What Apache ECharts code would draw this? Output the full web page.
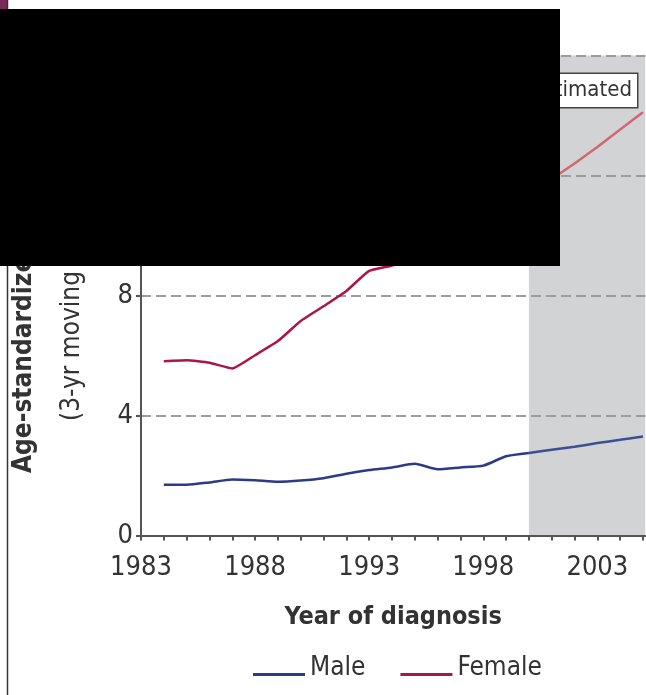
<!DOCTYPE html>
<html><head><meta charset="utf-8">
<script src="https://cdn.jsdelivr.net/npm/echarts@6/dist/echarts.min.js"></script>
<style>html,body{margin:0;padding:0;background:#fff}#c{width:646px;height:695px}</style>
</head><body><div id="c"></div>
<script>
// ---- data ----
const years  = [1984,1985,1986,1987,1988,1989,1990,1991,1992,1993,1994,1995,1996,1997,1998,1999,2000,2001,2002,2003,2004,2005];
const male   = [1.69,1.69,1.77,1.87,1.84,1.79,1.83,1.91,2.06,2.18,2.27,2.39,2.21,2.27,2.33,2.64,2.75,2.86,2.96,3.08,3.19,3.30];
const female = [5.81,5.84,5.76,5.57,6.01,6.48,7.15,7.64,8.15,8.82,9.00,9.30,9.70,10.10,10.50,10.90,11.35,11.88,12.40,12.95,13.53,14.11];
const estimatedFrom = 2000;
const xLabelYears = [1983,1988,1993,1998,2003];
const yTickValues = [0,4,8,12,16];
const seriesNames = ['Male','Female'];

const FONT = "'DejaVu Sans Condensed','Liberation Sans Narrow',sans-serif";
const TXT = '#333';

function part(vals, est){
  return years.map((y,i)=>[y,vals[i]]).filter(p => est ? p[0] >= estimatedFrom : p[0] <= estimatedFrom);
}

const chart = echarts.init(document.getElementById('c'), null, {renderer:'canvas'});
const legendIcon = 'path://M0,0 M0,17 L52,17 L52,20 L0,20 Z M0,24';

chart.setOption({
  animation:false,
  backgroundColor:'#fff',
  grid:{left:141, right:0, top:55.5, bottom:159.5, containLabel:false},
  xAxis:{
    type:'value', min:1983, max:2005.1, interval:1, z:2,
    axisLine:{lineStyle:{color:'#555', width:2}},
    axisTick:{show:true, length:5, lineStyle:{color:'#555', width:2}},
    axisLabel:{
      fontFamily:FONT, fontSize:27, color:TXT, margin:19, showMaxLabel:false,
      formatter:v => xLabelYears.indexOf(v) >= 0 ? String(v) : ''
    },
    splitLine:{show:false},
    name:'Year of diagnosis', nameLocation:'middle', nameGap:69,
    nameTextStyle:{fontFamily:FONT, fontSize:25, fontWeight:'bold', color:TXT}
  },
  yAxis:{
    type:'value', min:0, max:16, interval:4, z:2,
    axisLine:{show:true, lineStyle:{color:'#555', width:2}},
    axisTick:{show:true, length:5, lineStyle:{color:'#555', width:2}},
    axisLabel:{fontFamily:FONT, fontSize:27, color:TXT, margin:8,
      formatter:v => yTickValues.indexOf(v) >= 0 ? String(v) : ''},
    splitLine:{show:true, lineStyle:{color:'#9d9d9d', width:2, type:[10,5]}}
  },
  legend:{
    left:253, top:655, padding:0, itemGap:35, itemWidth:52, itemHeight:24,
    data:seriesNames.map(n=>({name:n, icon:legendIcon})),
    textStyle:{fontFamily:FONT, fontSize:26, color:TXT}
  },
  series:[
    {name:'Male', type:'line', z:3, data:part(male,false), smooth:0.2, showSymbol:false,
      lineStyle:{color:'#2c3a88', width:2.5}, itemStyle:{color:'#2c3a88'},
      markArea:{silent:true, z:1, itemStyle:{color:'#d2d3d5'},
        data:[[{xAxis:estimatedFrom, yAxis:0},{xAxis:2005.1, yAxis:16}]]}},
    {name:'Male est', type:'line', z:3, data:part(male,true), smooth:0.2, showSymbol:false,
      lineStyle:{color:'#3f4c96', width:2.5}},
    {name:'Female', type:'line', z:3, data:part(female,false), smooth:0.15, showSymbol:false,
      lineStyle:{color:'#ad1449', width:2.5}, itemStyle:{color:'#ad1449'}},
    {name:'Female est', type:'line', z:3, data:part(female,true), smooth:0.15, showSymbol:false,
      lineStyle:{color:'#d4666f', width:2.5}}
  ],
  graphic:[
    {type:'rect', z:50, shape:{x:0, y:0, width:7, height:9}, style:{fill:'#7a2a58'}},
    {type:'line', z:50, shape:{x1:7.5, y1:0, x2:7.5, y2:695}, style:{stroke:'#333', lineWidth:1.5}},
    {type:'text', z:50, x:24, y:473, rotation:Math.PI/2,
      style:{text:'Age-standardized rate', font:'bold 26px '+FONT, fill:TXT, textAlign:'left', textVerticalAlign:'middle'}},
    {type:'text', z:50, x:72, y:421, rotation:Math.PI/2,
      style:{text:'(3-yr moving average)', font:'26px '+FONT, fill:TXT, textAlign:'left', textVerticalAlign:'middle'}},
    {type:'text', z:40, x:637, y:90.5,
      style:{text:'Estimated', font:'22px '+FONT, fill:TXT, textAlign:'right', textVerticalAlign:'middle',
        backgroundColor:'#fff', borderColor:'#444', borderWidth:1.5, padding:[6,5,5,6]}},
    {type:'rect', z:100, shape:{x:0, y:9, width:560, height:257}, style:{fill:'#000'}}
  ]
});
</script></body></html>
